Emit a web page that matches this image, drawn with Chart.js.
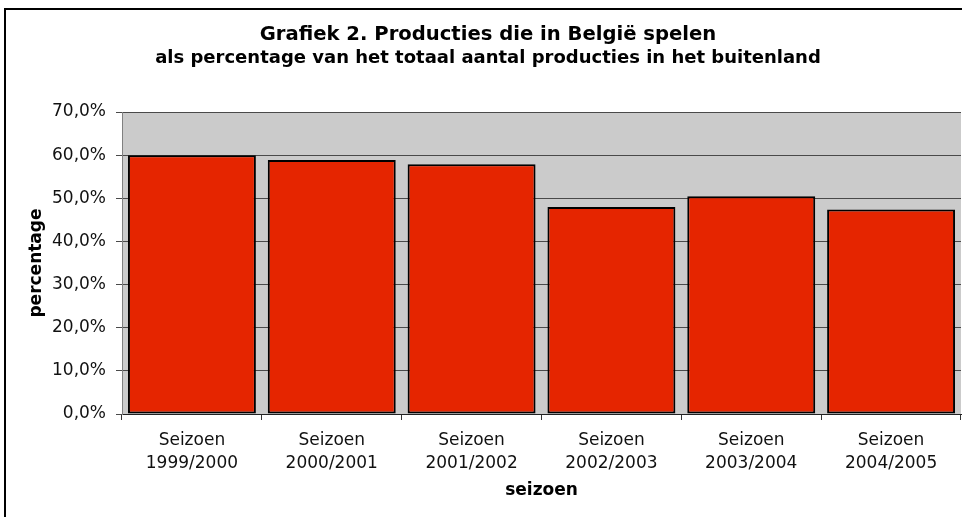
<!DOCTYPE html>
<html>
<head>
<meta charset="utf-8">
<script src="https://cdn.jsdelivr.net/npm/chart.js@4/dist/chart.umd.min.js"></script>
<style>
  html, body { margin: 0; padding: 0; background: #ffffff; }
  #wrap { position: relative; width: 962px; height: 517px; }
</style>
</head>
<body>
<div id="wrap"><canvas id="c" width="962" height="517"></canvas></div>
<script>
const titleLine = 'Grafiek 2. Producties die in België spelen';
const subtitleLine = 'als percentage van het totaal aantal producties in het buitenland';
const categories = [['Seizoen', '1999/2000'], ['Seizoen', '2000/2001'], ['Seizoen', '2001/2002'], ['Seizoen', '2002/2003'], ['Seizoen', '2003/2004'], ['Seizoen', '2004/2005']];
const percentages = [60.0, 58.9, 57.9, 48.0, 50.5, 47.4];
const yTickValues = [0, 10, 20, 30, 40, 50, 60, 70];
const xAxisTitle = 'seizoen';
const yAxisTitle = 'percentage';

const FONT = '"DejaVu Sans", Verdana, sans-serif';

const framePlugin = {
  id: 'frameAndPlot',
  beforeDraw(chart) {
    const ctx = chart.ctx;
    const a = chart.chartArea;
    ctx.save();
    ctx.fillStyle = '#ffffff';
    ctx.fillRect(0, 0, chart.width, chart.height);
    ctx.strokeStyle = '#000000';
    ctx.lineWidth = 2;
    ctx.strokeRect(5, 9, 980, 530);
    ctx.fillStyle = '#cbcbcb';
    ctx.fillRect(a.left, a.top, a.right - a.left, a.bottom - a.top);
    ctx.restore();
  }
};

new Chart(document.getElementById('c'), {
  type: 'bar',
  data: {
    labels: categories,
    datasets: [{
      data: percentages,
      backgroundColor: '#e52500',
      borderColor: '#000000',
      borderWidth: 2,
      borderSkipped: false,
      barPercentage: 1.0,
      categoryPercentage: 0.915
    }]
  },
  options: {
    responsive: false,
    animation: false,
    devicePixelRatio: 1,
    layout: { padding: { left: 15, top: 0, right: 1, bottom: 0 } },
    plugins: {
      legend: { display: false },
      tooltip: { enabled: false },
      title: {
        display: true,
        text: titleLine,
        color: '#000000',
        font: { family: FONT, size: 19.6, weight: 'bold', lineHeight: 20 / 19.6 },
        padding: { top: 25, bottom: 0 }
      },
      subtitle: {
        display: true,
        text: subtitleLine,
        color: '#000000',
        font: { family: FONT, size: 18, weight: 'bold', lineHeight: 16 / 18 },
        padding: { top: 5, bottom: 46 }
      }
    },
    scales: {
      x: {
        afterFit(scale) { scale.height = 103; },
        grid: { display: true, drawOnChartArea: false, drawTicks: true, tickLength: 6, color: '#333333', offset: true },
        border: { display: true, color: '#222222', width: 1 },
        ticks: {
          color: '#111111',
          font: { family: FONT, size: 17, lineHeight: 23 / 17 },
          padding: 9,
          maxRotation: 0,
          autoSkip: false
        },
        title: {
          display: true,
          text: xAxisTitle,
          color: '#000000',
          font: { family: FONT, size: 17, weight: 'bold' },
          padding: { top: 0, bottom: 16 }
        }
      },
      y: {
        min: 0,
        max: 70,
        afterFit(scale) { scale.width = 107; },
        afterBuildTicks(scale) { scale.ticks = yTickValues.map(v => ({ value: v })); },
        grid: { display: true, drawOnChartArea: true, drawTicks: true, tickLength: 6, color: '#4a4a4a', lineWidth: 1 },
        border: { display: true, color: '#808080', width: 1 },
        ticks: {
          color: '#111111',
          font: { family: FONT, size: 17 },
          padding: 10,
          callback: v => v.toFixed(1).replace('.', ',') + '%'
        },
        title: {
          display: true,
          text: yAxisTitle,
          color: '#000000',
          font: { family: FONT, size: 17, weight: 'bold' },
          padding: { top: 11, bottom: 0 }
        }
      }
    }
  },
  plugins: [framePlugin]
});
</script>
</body>
</html>
